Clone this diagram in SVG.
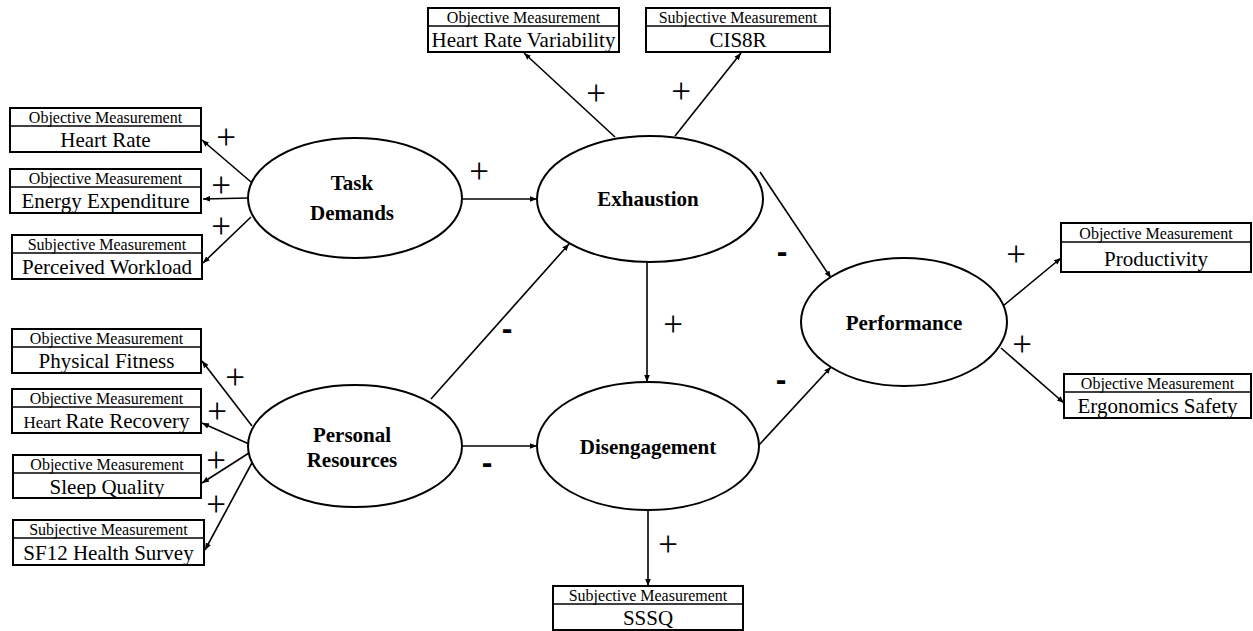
<svg xmlns="http://www.w3.org/2000/svg" width="1253" height="631" viewBox="0 0 1253 631">
  <style>
    .box { fill: #fff; stroke: #000; stroke-width: 2; }
    .div { stroke: #000; stroke-width: 1.5; }
    .hdr { font-family: "Liberation Serif", "Times New Roman", serif; font-size: 16px; text-anchor: middle; fill: #000; }
    .val { font-family: "Liberation Serif", "Times New Roman", serif; font-size: 21px; text-anchor: middle; fill: #000; }
    .ell { fill: #fff; stroke: #000; stroke-width: 2; }
    .lat { font-family: "Liberation Serif", "Times New Roman", serif; font-size: 21px; font-weight: bold; text-anchor: middle; fill: #000; }
    .edge { stroke: #000; stroke-width: 1.6; fill: none; marker-end: url(#arr); }
    .plus { font-family: "Liberation Serif", "Times New Roman", serif; font-size: 35px; text-anchor: middle; fill: #000; }
    .minus { font-family: "Liberation Sans", Arial, sans-serif; font-size: 32px; font-weight: bold; text-anchor: middle; fill: #000; }
  </style>
  <defs>
    <marker id="arr" viewBox="0 0 10 10" refX="10" refY="5" markerWidth="7" markerHeight="7" markerUnits="userSpaceOnUse" orient="auto">
      <path d="M0,1 L10,5 L0,9 z" fill="#000"/>
    </marker>
  </defs>
  <rect width="1253" height="631" fill="#fff"/>

  <!-- connectors -->
  <g id="connectors">
    <line class="edge" x1="251" y1="182" x2="202" y2="140"/>
    <line class="edge" x1="248" y1="198" x2="203" y2="199"/>
    <line class="edge" x1="251" y1="217" x2="203" y2="263"/>
    <line class="edge" x1="252" y1="426" x2="202" y2="361"/>
    <line class="edge" x1="249" y1="444" x2="202" y2="423"/>
    <line class="edge" x1="249" y1="453" x2="202" y2="483"/>
    <line class="edge" x1="254" y1="459" x2="205" y2="550"/>
    <line class="edge" x1="462" y1="199" x2="537" y2="199"/>
    <line class="edge" x1="461" y1="446" x2="537" y2="446"/>
    <line class="edge" x1="431" y1="399" x2="569" y2="244"/>
    <line class="edge" x1="647" y1="262" x2="647" y2="382"/>
    <line class="edge" x1="615" y1="137" x2="524" y2="53"/>
    <line class="edge" x1="675" y1="136" x2="741" y2="53"/>
    <line class="edge" x1="760" y1="172" x2="831" y2="278"/>
    <line class="edge" x1="759" y1="445" x2="831" y2="367"/>
    <line class="edge" x1="1003" y1="306" x2="1061" y2="258"/>
    <line class="edge" x1="1001" y1="348" x2="1064" y2="403"/>
    <line class="edge" x1="648" y1="509" x2="648" y2="586"/>

    <text class="plus" x="226" y="149">+</text>
    <text class="plus" x="221" y="197">+</text>
    <text class="plus" x="221" y="238">+</text>
    <text class="plus" x="235" y="389">+</text>
    <text class="plus" x="217" y="423">+</text>
    <text class="plus" x="216" y="472">+</text>
    <text class="plus" x="216" y="516">+</text>
    <text class="plus" x="479" y="183">+</text>
    <text class="plus" x="596" y="105">+</text>
    <text class="plus" x="681" y="103">+</text>
    <text class="plus" x="673" y="336">+</text>
    <text class="plus" x="668" y="556">+</text>
    <text class="plus" x="1016" y="266">+</text>
    <text class="plus" x="1022" y="356">+</text>
    <text class="minus" x="507" y="339">-</text>
    <text class="minus" x="487" y="473">-</text>
    <text class="minus" x="782" y="262">-</text>
    <text class="minus" x="781" y="390">-</text>
  </g>

  <!-- latent constructs -->
  <g id="task-demands">
    <ellipse class="ell" cx="355" cy="198" rx="107" ry="60"/>
    <text class="lat" x="352" y="190">Task</text>
    <text class="lat" x="352" y="220">Demands</text>
  </g>
  <g id="personal-resources">
    <ellipse class="ell" cx="355" cy="446" rx="107" ry="61"/>
    <text class="lat" x="352" y="442">Personal</text>
    <text class="lat" x="352" y="467">Resources</text>
  </g>
  <g id="exhaustion">
    <ellipse class="ell" cx="650" cy="199" rx="113" ry="63"/>
    <text class="lat" x="648" y="206">Exhaustion</text>
  </g>
  <g id="disengagement">
    <ellipse class="ell" cx="648" cy="446" rx="111" ry="64"/>
    <text class="lat" x="648" y="454">Disengagement</text>
  </g>
  <g id="performance">
    <ellipse class="ell" cx="904" cy="322" rx="103" ry="64"/>
    <text class="lat" x="904" y="330">Performance</text>
  </g>

  <!-- measurement boxes -->
  <g id="heart-rate">
    <rect class="box" x="10" y="108" width="191" height="44"/>
    <line class="div" x1="10" y1="126" x2="201" y2="126"/>
    <text class="hdr" x="105.5" y="123">Objective Measurement</text>
    <text class="val" x="105.5" y="147">Heart Rate</text>
  </g>
  <g id="energy-expenditure">
    <rect class="box" x="10" y="169" width="191" height="44"/>
    <line class="div" x1="10" y1="187" x2="201" y2="187"/>
    <text class="hdr" x="105.5" y="184">Objective Measurement</text>
    <text class="val" x="105.5" y="208">Energy Expenditure</text>
  </g>
  <g id="perceived-workload">
    <rect class="box" x="12" y="235" width="190" height="44"/>
    <line class="div" x1="12" y1="253" x2="202" y2="253"/>
    <text class="hdr" x="107" y="250">Subjective Measurement</text>
    <text class="val" x="107" y="274">Perceived Workload</text>
  </g>
  <g id="physical-fitness">
    <rect class="box" x="12" y="329" width="189" height="44"/>
    <line class="div" x1="12" y1="347" x2="201" y2="347"/>
    <text class="hdr" x="106.5" y="344">Objective Measurement</text>
    <text class="val" x="106.5" y="368">Physical Fitness</text>
  </g>
  <g id="heart-rate-recovery">
    <rect class="box" x="12" y="389" width="189" height="44"/>
    <line class="div" x1="12" y1="407" x2="201" y2="407"/>
    <text class="hdr" x="106.5" y="404">Objective Measurement</text>
    <text class="val" x="106.5" y="428"><tspan font-size="17px">Heart </tspan>Rate Recovery</text>
  </g>
  <g id="sleep-quality">
    <rect class="box" x="13" y="455" width="188" height="43"/>
    <line class="div" x1="13" y1="473" x2="201" y2="473"/>
    <text class="hdr" x="107" y="470">Objective Measurement</text>
    <text class="val" x="107" y="494">Sleep Quality</text>
  </g>
  <g id="sf12-health-survey">
    <rect class="box" x="13" y="520" width="191" height="45"/>
    <line class="div" x1="13" y1="538" x2="204" y2="538"/>
    <text class="hdr" x="108.5" y="535">Subjective Measurement</text>
    <text class="val" x="108.5" y="560">SF12 Health Survey</text>
  </g>
  <g id="heart-rate-variability">
    <rect class="box" x="428" y="8" width="191" height="44"/>
    <line class="div" x1="428" y1="26" x2="619" y2="26"/>
    <text class="hdr" x="523.5" y="23">Objective Measurement</text>
    <text class="val" x="523.5" y="47">Heart Rate Variability</text>
  </g>
  <g id="cis8r">
    <rect class="box" x="646" y="8" width="184" height="44"/>
    <line class="div" x1="646" y1="26" x2="830" y2="26"/>
    <text class="hdr" x="738" y="23">Subjective Measurement</text>
    <text class="val" x="738" y="47">CIS8R</text>
  </g>
  <g id="productivity">
    <rect class="box" x="1061" y="223" width="190" height="49"/>
    <line class="div" x1="1061" y1="242" x2="1251" y2="242"/>
    <text class="hdr" x="1156" y="239">Objective Measurement</text>
    <text class="val" x="1156" y="266">Productivity</text>
  </g>
  <g id="ergonomics-safety">
    <rect class="box" x="1064" y="374" width="187" height="44"/>
    <line class="div" x1="1064" y1="392" x2="1251" y2="392"/>
    <text class="hdr" x="1157.5" y="389">Objective Measurement</text>
    <text class="val" x="1157.5" y="413">Ergonomics Safety</text>
  </g>
  <g id="sssq">
    <rect class="box" x="553" y="586" width="190" height="44"/>
    <line class="div" x1="553" y1="604" x2="743" y2="604"/>
    <text class="hdr" x="648" y="601">Subjective Measurement</text>
    <text class="val" x="648" y="625">SSSQ</text>
  </g>
</svg>
